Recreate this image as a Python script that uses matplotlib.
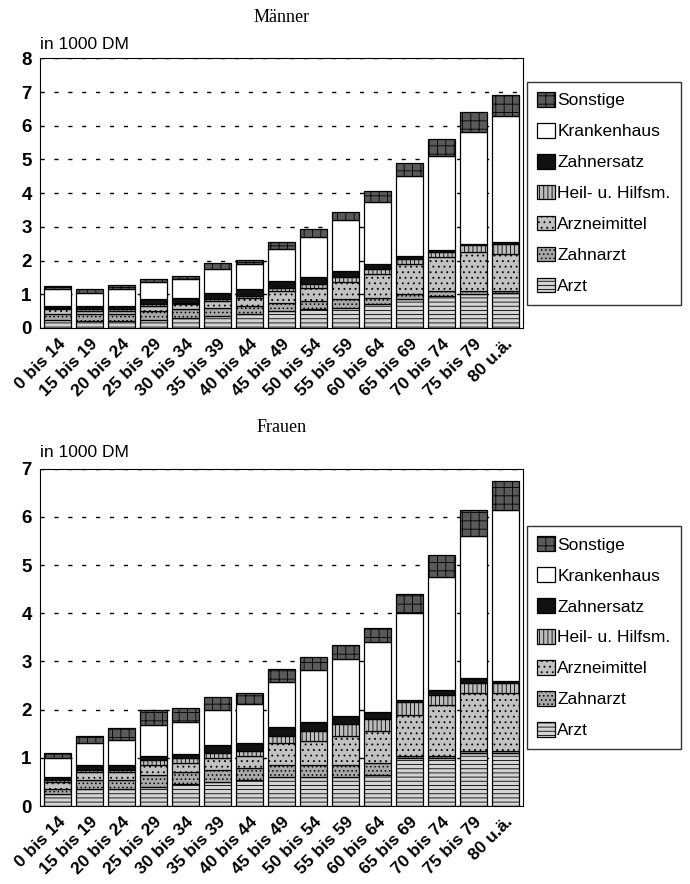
import numpy as np
import matplotlib
matplotlib.use("Agg")
import matplotlib.pyplot as plt

plt.rcParams['font.family'] = ['Liberation Sans', 'DejaVu Sans']
plt.rcParams['hatch.linewidth'] = 0.6

ages = ['0 bis 14', '15 bis 19', '20 bis 24', '25 bis 29', '30 bis 34',
        '35 bis 39', '40 bis 44', '45 bis 49', '50 bis 54', '55 bis 59',
        '60 bis 64', '65 bis 69', '70 bis 74', '75 bis 79', '80 u.ä.']
kinds = ['Arzt', 'Zahnarzt', 'Arzneimittel', 'Heil- u. Hilfsm.',
         'Zahnersatz', 'Krankenhaus', 'Sonstige']

# Männer, in 1000 DM
m_arzt = [0.25, 0.2, 0.2, 0.25, 0.3, 0.35, 0.4, 0.5, 0.55, 0.6, 0.7, 0.85, 0.95, 1.0, 1.05]
m_zahnarzt = [0.15, 0.2, 0.2, 0.25, 0.25, 0.25, 0.25, 0.25, 0.25, 0.25, 0.2, 0.15, 0.15, 0.1, 0.05]
m_arznei = [0.15, 0.1, 0.1, 0.15, 0.15, 0.2, 0.25, 0.35, 0.4, 0.5, 0.7, 0.9, 1.0, 1.15, 1.1]
m_heil = [0.05, 0.05, 0.05, 0.05, 0.05, 0.05, 0.05, 0.1, 0.1, 0.15, 0.15, 0.15, 0.15, 0.2, 0.3]
m_zahnersatz = [0.05, 0.1, 0.1, 0.15, 0.15, 0.2, 0.2, 0.2, 0.2, 0.2, 0.15, 0.1, 0.05, 0.05, 0.05]
m_kranken = [0.5, 0.4, 0.5, 0.5, 0.55, 0.7, 0.75, 0.95, 1.2, 1.5, 1.85, 2.35, 2.8, 3.3, 3.75]
m_sonst = [0.1, 0.1, 0.13, 0.1, 0.1, 0.17, 0.12, 0.2, 0.25, 0.25, 0.3, 0.4, 0.5, 0.6, 0.6]

# Frauen, in 1000 DM
f_arzt = [0.25, 0.35, 0.35, 0.4, 0.45, 0.5, 0.55, 0.6, 0.6, 0.6, 0.65, 1.0, 1.0, 1.1, 1.1]
f_zahnarzt = [0.1, 0.2, 0.2, 0.25, 0.25, 0.25, 0.25, 0.25, 0.25, 0.25, 0.25, 0.05, 0.05, 0.05, 0.05]
f_arznei = [0.15, 0.15, 0.15, 0.2, 0.2, 0.25, 0.25, 0.45, 0.5, 0.6, 0.65, 0.85, 1.05, 1.2, 1.2]
f_heil = [0.05, 0.05, 0.05, 0.1, 0.1, 0.1, 0.1, 0.15, 0.2, 0.25, 0.25, 0.25, 0.2, 0.2, 0.2]
f_zahnersatz = [0.05, 0.1, 0.1, 0.1, 0.08, 0.17, 0.15, 0.2, 0.2, 0.18, 0.15, 0.05, 0.1, 0.1, 0.05]
f_kranken = [0.4, 0.45, 0.53, 0.63, 0.67, 0.73, 0.82, 0.93, 1.08, 1.17, 1.45, 1.8, 2.35, 2.95, 3.55]
f_sonst = [0.1, 0.15, 0.24, 0.32, 0.28, 0.27, 0.23, 0.27, 0.27, 0.3, 0.3, 0.4, 0.45, 0.55, 0.6]

styles = [
    dict(color='#d4d4d4', hatch='----'),
    dict(color='#a8a8a8', hatch='....'),
    dict(color='#c2c2c2', hatch='...'),
    dict(color='#bdbdbd', hatch='||||'),
    dict(color='#111111', hatch=None),
    dict(color='white', hatch=None),
    dict(color='#5a5a5a', hatch='++'),
]


def draw(ax, series, ymax, title):
    x = np.arange(len(ages))
    bottom = np.zeros(len(ages))
    handles = []
    for vals, st, lab in zip(series, styles, kinds):
        h = ax.bar(x, vals, 0.86, bottom=bottom, color=st['color'],
                   hatch=st['hatch'], edgecolor='black', linewidth=0.9,
                   label=lab, zorder=3)
        handles.append(h)
        bottom += np.array(vals)
    ax.set_xlim(-0.55, len(ages) - 0.45)
    ax.set_ylim(0, ymax)
    ax.set_yticks(range(ymax + 1))
    ax.yaxis.grid(True, color='black', linestyle=(0, (3, 7)), linewidth=1.0)
    ax.set_axisbelow(True)
    ax.tick_params(length=0, labelsize=13.5, pad=6)
    for t in ax.get_yticklabels():
        t.set_fontweight('bold')
    ax.set_xticks(x)
    ax.set_xticklabels(ages, rotation=45, ha='right', rotation_mode='anchor',
                       fontweight='bold', fontsize=12.5)
    ax.text(0.0, 1.025, 'in 1000 DM', transform=ax.transAxes, fontsize=12.5,
            ha='left', va='bottom')
    ax.set_title(title, family='Liberation Serif', fontsize=13, pad=26)
    leg = ax.legend(handles[::-1], kinds[::-1], loc='center left',
                    bbox_to_anchor=(1.008, 0.5), frameon=True, fancybox=False,
                    edgecolor='black', fontsize=12.5, handlelength=1.0,
                    handleheight=0.9, handletextpad=0.15, labelspacing=0.85,
                    borderpad=0.6, borderaxespad=0)
    leg.get_frame().set_linewidth(1.0)


fig = plt.figure(figsize=(6.9, 8.84), dpi=100)
ax1 = fig.add_axes([0.058, 0.629, 0.70, 0.305])
ax2 = fig.add_axes([0.058, 0.088, 0.70, 0.382])

draw(ax1, [m_arzt, m_zahnarzt, m_arznei, m_heil, m_zahnersatz, m_kranken, m_sonst], 8, 'Männer')
draw(ax2, [f_arzt, f_zahnarzt, f_arznei, f_heil, f_zahnersatz, f_kranken, f_sonst], 7, 'Frauen')

fig.savefig('out.png', dpi=100)
